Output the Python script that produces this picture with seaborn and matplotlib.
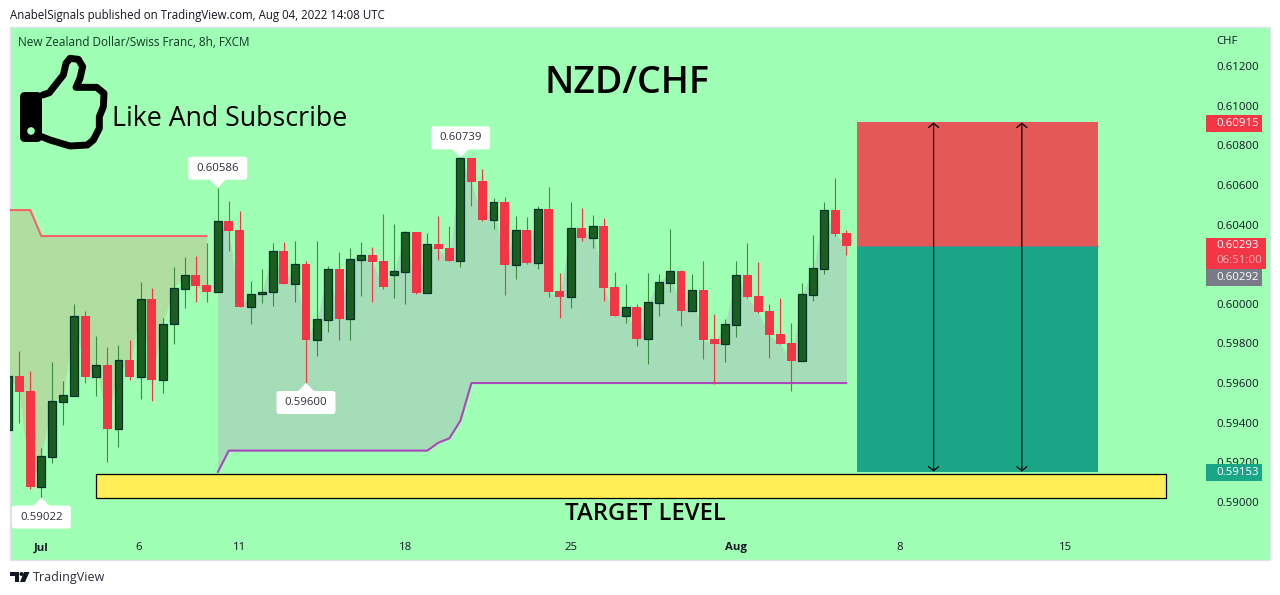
import numpy as np
import pandas as pd
import seaborn as sns
from matplotlib import pyplot as plt
from matplotlib.lines import Line2D
from matplotlib.patches import Circle, FancyBboxPatch, Polygon, Rectangle

# candles, 8h bars
opens = [0.59363, 0.59636, 0.59560, 0.59077, 0.59229, 0.59506, 0.59537, 0.59938, 0.59632, 0.59691,
         0.59370, 0.59716, 0.59632, 0.60023, 0.59617, 0.59896, 0.60076, 0.60145, 0.60095, 0.60061,
         0.60416, 0.60372, 0.59986, 0.60048, 0.60058, 0.60266, 0.60102, 0.60201, 0.59819, 0.59920,
         0.60176, 0.59925, 0.60223, 0.60246, 0.60216, 0.60145, 0.60162, 0.60362, 0.60056, 0.60302,
         0.60282, 0.60218, 0.60736, 0.60620, 0.60425, 0.60514, 0.60198, 0.60372, 0.60208, 0.60478,
         0.60065, 0.60036, 0.60383, 0.60334, 0.60393, 0.60085, 0.59940, 0.59984, 0.59824, 0.60006,
         0.60107, 0.60166, 0.59965, 0.60070, 0.59822, 0.59799, 0.59895, 0.60145, 0.60039, 0.59964,
         0.59848, 0.59802, 0.59713, 0.60046, 0.60177, 0.60473, 0.60357]
highs = [0.59636, 0.59762, 0.59661, 0.59271, 0.59706, 0.59610, 0.59999, 0.59964, 0.59838, 0.59782,
         0.59792, 0.59817, 0.60108, 0.60078, 0.59927, 0.60186, 0.60236, 0.60241, 0.60307, 0.60586,
         0.60519, 0.60468, 0.60113, 0.60176, 0.60307, 0.60312, 0.60317, 0.60216, 0.60315, 0.60191,
         0.60261, 0.60282, 0.60312, 0.60287, 0.60453, 0.60403, 0.60367, 0.60362, 0.60357, 0.60443,
         0.60393, 0.60739, 0.60736, 0.60680, 0.60534, 0.60539, 0.60443, 0.60438, 0.60494, 0.60589,
         0.60155, 0.60514, 0.60483, 0.60448, 0.60433, 0.60161, 0.60100, 0.59999, 0.60155, 0.60150,
         0.60378, 0.60171, 0.60150, 0.60216, 0.59949, 0.59923, 0.60216, 0.60307, 0.60211, 0.59999,
         0.60029, 0.59903, 0.60105, 0.60347, 0.60514, 0.60635, 0.60372]
lows = [0.59363, 0.59400, 0.59067, 0.59022, 0.59195, 0.59390, 0.59537, 0.59602, 0.59537, 0.59203,
        0.59279, 0.59615, 0.59521, 0.59511, 0.59552, 0.59799, 0.59981, 0.60011, 0.60011, 0.60061,
        0.60268, 0.59986, 0.59900, 0.60006, 0.59991, 0.60102, 0.60011, 0.59600, 0.59738, 0.59858,
        0.59817, 0.59817, 0.60039, 0.60009, 0.60075, 0.60029, 0.59999, 0.60050, 0.60056, 0.60221,
        0.60216, 0.60186, 0.60494, 0.60418, 0.60378, 0.60045, 0.60125, 0.60201, 0.60176, 0.60034,
        0.59928, 0.59979, 0.60317, 0.60282, 0.60014, 0.59938, 0.59903, 0.59787, 0.59696, 0.59938,
        0.60060, 0.59888, 0.59965, 0.59722, 0.59595, 0.59706, 0.59833, 0.60029, 0.59954, 0.59727,
        0.59797, 0.59560, 0.59713, 0.60014, 0.60150, 0.60342, 0.60246]
closes = [0.59636, 0.59557, 0.59077, 0.59230, 0.59508, 0.59538, 0.59937, 0.59632, 0.59690, 0.59370,
          0.59715, 0.59632, 0.60023, 0.59617, 0.59896, 0.60078, 0.60144, 0.60092, 0.60061, 0.60416,
          0.60369, 0.59986, 0.60048, 0.60058, 0.60265, 0.60102, 0.60199, 0.59819, 0.59922, 0.60176,
          0.59923, 0.60224, 0.60246, 0.60211, 0.60085, 0.60166, 0.60361, 0.60055, 0.60300, 0.60277,
          0.60216, 0.60734, 0.60615, 0.60423, 0.60512, 0.60196, 0.60371, 0.60206, 0.60477, 0.60060,
          0.60034, 0.60381, 0.60332, 0.60391, 0.60080, 0.59938, 0.59984, 0.59822, 0.60007, 0.60108,
          0.60164, 0.59964, 0.60068, 0.59817, 0.59797, 0.59896, 0.60144, 0.60034, 0.59959, 0.59843,
          0.59797, 0.59711, 0.60048, 0.60179, 0.60472, 0.60352, 0.60293]

# the red level over the first 19 bars and the purple one over the rest
upper_level = [0.60473, 0.60473, 0.60473] + [0.60342] * 16
lower_level = [0.59150] + [0.59259] * 19 + [0.59299, 0.59321, 0.59410] + [0.59600] * 35

# 0.60200 sits behind the last price tag in the picture, so no tick for it
y_ticks = [0.590, 0.592, 0.594, 0.596, 0.598, 0.600, 0.604, 0.606, 0.608, 0.610, 0.612]
x_ticks = [3, 11.85, 21, 36, 51, 66, 80.85, 95.9]
x_labels = ['Jul', '6', '11', '18', '25', 'Aug', '8', '15']

pivot_bars = [3, 19, 27, 41]
pivot_prices = [0.59022, 0.60586, 0.59600, 0.60739]
pivot_below = [True, False, True, False]

stop_price = 0.60915
entry_price = 0.60292
last_price = 0.60293
target_price = 0.59153
target_zone = (0.59022, 0.59141)
position_bars = (76.95, 98.85)
arrow_bars = [83.9, 91.9]
zone_bars = (7.96, 104.97)

thumb_outline = [(128, 285), (148, 278), (170, 250), (190, 225), (198, 190), (210, 175), (235, 178),
                 (248, 200), (240, 235), (228, 262), (290, 262), (312, 280), (310, 320), (298, 350),
                 (298, 385), (280, 420), (262, 435), (210, 438), (150, 420), (125, 410)]

W, H = 1280, 595
BG = '#9FFFB5'
UP_FACE = '#1B5E20'
UP_EDGE = '#00332A'
UP_WICK = '#388E3C'
DOWN = '#F23645'
TEAL = '#1AA587'
FONT = 'Open Sans'
TEXT = '#131722'

sns.set_theme(style='white')
plt.rcParams['font.family'] = [FONT, 'DejaVu Sans']


def fx(px):
    return px / W


def fy(py):
    return 1 - py / H


fig = plt.figure(figsize=(W / 100, H / 100), dpi=100, facecolor='white')

# pane with the price scale, the axes only cover the part with the bars
fig.add_artist(Rectangle((fx(10), fy(560)), fx(1260), 533 / H, transform=fig.transFigure,
                         facecolor=BG, edgecolor='#E0E3EB', lw=1, zorder=-5))
ax = fig.add_axes([fx(10), fy(536), fx(1199), 509 / H])
ax.patch.set_alpha(0)
for s in ax.spines.values():
    s.set_visible(False)

df = pd.DataFrame({'bar': np.arange(len(closes)), 'open': opens, 'high': highs, 'low': lows, 'close': closes})
df['up'] = df['close'] >= df['open']
upper_df = df.iloc[:len(upper_level)].assign(level=upper_level)
lower_df = df.iloc[len(upper_level):].assign(level=lower_level)

ax.fill_between(upper_df['bar'], upper_df['level'], upper_df['close'], color='#B0DDA0', lw=0, zorder=1)
ax.fill_between(lower_df['bar'], lower_df['level'], lower_df['close'], color='#A5DDB8', lw=0, zorder=1)
sns.lineplot(data=upper_df, x='bar', y='level', color='#F7636B', lw=1.5, estimator=None, ax=ax, zorder=2)
sns.lineplot(data=lower_df, x='bar', y='level', color='#AB47BC', lw=1.5, estimator=None, ax=ax, zorder=2)

up = df[df['up']]
down = df[~df['up']]
ax.vlines(up['bar'], up['low'], up['high'], color=UP_WICK, lw=0.8, zorder=3)
ax.vlines(down['bar'], down['low'], down['high'], color=DOWN, lw=0.8, zorder=3)
ax.bar(up['bar'], up['close'] - up['open'], bottom=up['open'], width=0.72, color=UP_FACE,
       edgecolor=UP_EDGE, lw=0.9, zorder=4)
ax.bar(down['bar'], down['open'] - down['close'], bottom=down['close'], width=0.81, color=DOWN, lw=0, zorder=4)

# position tool and target zone
ax.fill_between(position_bars, entry_price, stop_price, color='#E55858', lw=0, zorder=5)
ax.fill_between(position_bars, target_price, entry_price, color=TEAL, lw=0, zorder=5)
ax.plot(position_bars, [entry_price, entry_price], color='#787B86', lw=0.7, zorder=5)
for b in arrow_bars:
    ax.annotate('', xy=(b, stop_price), xytext=(b, target_price), zorder=6,
                arrowprops=dict(arrowstyle='<->,head_width=0.36,head_length=0.3', color='black', lw=0.9,
                                shrinkA=0, shrinkB=0, mutation_scale=10))
ax.fill_between(zone_bars, target_zone[0], target_zone[1], facecolor='#FFEE58', edgecolor='black', lw=0.9, zorder=7)

ax.set_xlim(0.164, 108.87)
ax.set_ylim(0.58828, 0.61397)
ax.yaxis.tick_right()
ax.set_yticks(y_ticks, [f'{t:.5f}' for t in y_ticks])
ax.set_xticks(x_ticks, x_labels)
ax.tick_params(axis='y', length=0, pad=5, labelsize=8.2, labelcolor=TEXT)
ax.tick_params(axis='x', length=0, pad=4.5, labelsize=8.2, labelcolor=TEXT)
ax.set_xlabel('')
ax.set_ylabel('')
ax.get_xticklabels()[0].set_fontweight('bold')
ax.get_xticklabels()[5].set_fontweight('bold')


def to_px(bar, price):
    x, y = ax.transData.transform((bar, price))
    return x, H - y


# pivot callouts
for b, p, below in zip(pivot_bars, pivot_prices, pivot_below):
    x, y = to_px(b, p)
    sign = 1 if below else -1
    cy = y + sign * 19.5
    fig.add_artist(Polygon([(fx(x), fy(y)), (fx(x - 8.5), fy(y + sign * 8.5)), (fx(x + 8.5), fy(y + sign * 8.5))],
                           transform=fig.transFigure, facecolor='white', edgecolor='none', zorder=8))
    fig.add_artist(FancyBboxPatch((fx(x - 29.5), fy(cy + 11.5)), fx(59), 23 / H, transform=fig.transFigure,
                                  boxstyle='round,pad=0,rounding_size=0.002', mutation_aspect=2.15,
                                  facecolor='white', edgecolor='none', zorder=8))
    fig.text(fx(x), fy(cy), f'{p:.5f}', ha='center', va='center', fontsize=8.2, color='#2A2E39', zorder=9)


# price tags on the scale
def price_tag(top, bottom, right, color, lines):
    fig.add_artist(Rectangle((fx(1206), fy(bottom)), fx(right - 1206), (bottom - top) / H,
                             transform=fig.transFigure, facecolor=color, edgecolor='none', zorder=8))
    step = (bottom - top) / len(lines)
    for k, (txt, c) in enumerate(lines):
        fig.text(fx(1216), fy(top + step * (k + 0.5)), txt, ha='left', va='center', fontsize=8.2, color=c, zorder=9)


_, stop_y = to_px(0, stop_price)
_, target_y = to_px(0, target_price)
_, last_y = to_px(0, last_price)
price_tag(stop_y - 7.5, stop_y + 9.5, 1262, DOWN, [(f'{stop_price:.5f}', 'white')])
price_tag(target_y - 7.5, target_y + 9.5, 1262, TEAL, [(f'{target_price:.5f}', 'white')])
price_tag(last_y - 8, last_y + 23, 1266, DOWN, [(f'{last_price:.5f}', 'white'), ('06:51:00', '#FFB3BA')])
price_tag(last_y + 23, last_y + 40, 1262, '#787B86', [(f'{entry_price:.5f}', 'white')])

# texts
fig.text(fx(10), fy(15), 'AnabelSignals published on TradingView.com, Aug 04, 2022 14:08 UTC', ha='left',
         va='center', fontsize=8.3, color=TEXT)
fig.text(fx(18), fy(42), 'New Zealand Dollar/Swiss Franc, 8h, FXCM', ha='left', va='center', fontsize=8.5,
         color='#0E3B20')
fig.text(fx(1216), fy(41), 'CHF', ha='left', va='center', fontsize=8.2, color=TEXT)
fig.text(fx(626.5), fy(83), 'NZD/CHF', ha='center', va='center', fontsize=27, fontweight='semibold',
         color='black', zorder=9)
fig.text(fx(112), fy(119), 'Like And Subscribe', ha='left', va='center', fontsize=19.3, color='black', zorder=9)
fig.text(fx(645), fy(514), 'TARGET LEVEL', ha='center', va='center', fontsize=17.2, fontweight='semibold',
         color='black', zorder=9)
fig.text(fx(33), fy(577), 'TradingView', ha='left', va='center', fontsize=9, color='#2A2E39')

# thumb icon
thumb = np.array(thumb_outline) / 3
fig.add_artist(Line2D(fx(thumb[:, 0]), fy(thumb[:, 1]), transform=fig.transFigure, color='black', lw=5,
                      solid_joinstyle='round', solid_capstyle='round', zorder=8))
fig.add_artist(FancyBboxPatch((fx(20), fy(142)), fx(22), 50 / H, transform=fig.transFigure,
                              boxstyle='round,pad=0,rounding_size=0.004', mutation_aspect=2.15,
                              facecolor='black', edgecolor='none', zorder=8))
fig.add_artist(Circle((31, H - 131), 3.8, transform=None, facecolor=BG, edgecolor='none', zorder=9))

# TradingView logo
fig.add_artist(Polygon([(fx(10), fy(572)), (fx(19), fy(572)), (fx(19), fy(582)), (fx(15), fy(582)),
                        (fx(15), fy(576)), (fx(10), fy(576))], transform=fig.transFigure,
                       facecolor='#131722', edgecolor='none'))
fig.add_artist(Circle((21.5, H - 574), 2, transform=None, facecolor='#131722', edgecolor='none'))
fig.add_artist(Polygon([(fx(24), fy(572)), (fx(29.5), fy(572)), (fx(25), fy(582)), (fx(20), fy(582))],
                       transform=fig.transFigure, facecolor='#131722', edgecolor='none'))

plt.savefig('out.png', dpi=100)
